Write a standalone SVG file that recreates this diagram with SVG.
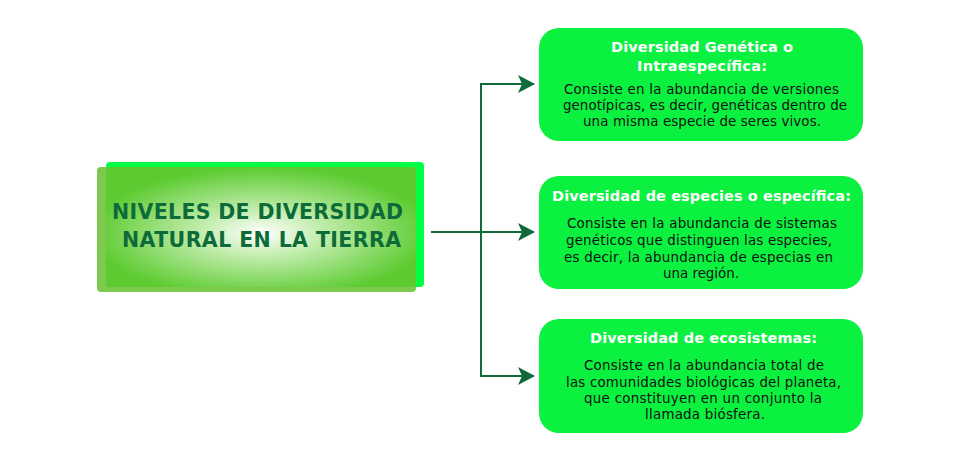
<svg xmlns="http://www.w3.org/2000/svg" width="960" height="461" viewBox="0 0 960 461">
<style>
.box{fill:#0bf13f}
.ttl{font-family:"DejaVu Sans","Liberation Sans",sans-serif;font-weight:700;font-size:14.5px;fill:#ffffff;text-anchor:middle}
.body{font-family:"DejaVu Sans","Liberation Sans",sans-serif;font-size:13.4px;fill:#111111;text-anchor:middle}
.main{font-family:"DejaVu Sans","Liberation Sans",sans-serif;font-weight:700;font-size:20.5px;fill:#0d6b3a;text-anchor:middle}
.con{fill:none;stroke:#106b3a;stroke-width:2}
</style>
<defs>
<radialGradient id="g" cx="0.5" cy="0.55" r="0.55">
<stop offset="0" stop-color="#ffffff"/>
<stop offset="0.35" stop-color="#c3edae"/>
<stop offset="1" stop-color="#5bcb2f"/>
</radialGradient>
<marker id="ah" markerWidth="18" markerHeight="18" refX="16" refY="9" orient="auto" markerUnits="userSpaceOnUse">
<path d="M0,0 L17,9 L0,18 L4,9 Z" fill="#106b3a"/>
</marker>
</defs>
<rect width="960" height="461" fill="#ffffff"/>
<g id="connectors">
<line class="con" x1="431" y1="232" x2="534" y2="232" marker-end="url(#ah)"/>
<polyline class="con" points="534,84 481,84 481,376 534,376" marker-end="url(#ah)"/>
<line class="con" x1="481" y1="84" x2="534" y2="84" marker-end="url(#ah)"/>
</g>
<g id="main">
<rect x="106" y="162" width="318" height="125" rx="4" fill="#00ff44"/>
<rect x="97" y="167" width="319" height="125" rx="4" fill="#7cc94e"/>
<rect x="106" y="167" width="310" height="120" rx="3" fill="url(#g)"/>
<text class="main" x="257.5" y="219" textLength="291">NIVELES DE DIVERSIDAD</text>
<text class="main" x="261.5" y="247" textLength="279">NATURAL EN LA TIERRA</text>
</g>
<g id="genetica">
<rect class="box" x="539" y="28" width="324" height="113" rx="20"/>
<text class="ttl" x="702" y="52" textLength="182">Diversidad Genética o</text>
<text class="ttl" x="702" y="71" textLength="130">Intraespecífica:</text>
<text class="body" x="701.5" y="94" textLength="275">Consiste en la abundancia de versiones</text>
<text class="body" x="705" y="110" textLength="284">genotípicas, es decir, genéticas dentro de</text>
<text class="body" x="702" y="126" textLength="238">una misma especie de seres vivos.</text>
</g>
<g id="especies">
<rect class="box" x="539" y="176" width="324" height="113" rx="20"/>
<text class="ttl" x="701.5" y="201" textLength="299">Diversidad de especies o específica:</text>
<text class="body" x="702" y="228" textLength="270">Consiste en la abundancia de sistemas</text>
<text class="body" x="699" y="245" textLength="266">genéticos que distinguen las especies,</text>
<text class="body" x="698.5" y="262" textLength="269">es decir, la abundancia de especias en</text>
<text class="body" x="701" y="278" textLength="76">una región.</text>
</g>
<g id="ecosistemas">
<rect class="box" x="539" y="319" width="324" height="114" rx="20"/>
<text class="ttl" x="703.5" y="343" textLength="227">Diversidad de ecosistemas:</text>
<text class="body" x="704" y="370" textLength="240">Consiste en la abundancia total de</text>
<text class="body" x="703.5" y="387" textLength="275">las comunidades biológicas del planeta,</text>
<text class="body" x="703" y="403" textLength="238">que constituyen en un conjunto la</text>
<text class="body" x="705" y="419" textLength="120">llamada biósfera.</text>
</g>
</svg>
